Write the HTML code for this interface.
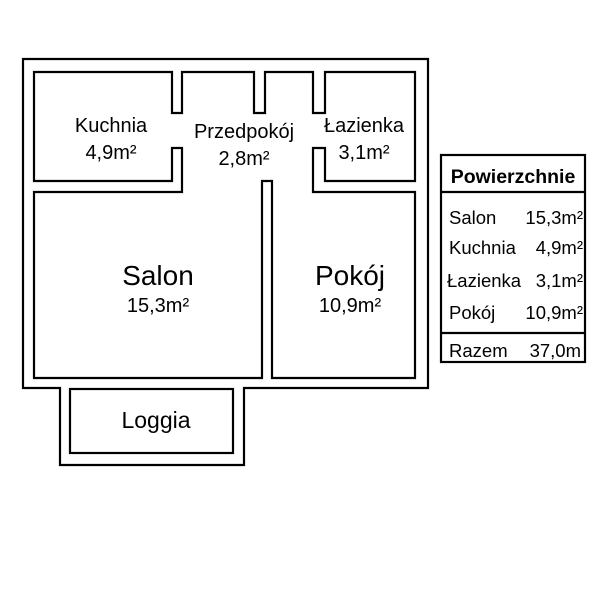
<!DOCTYPE html>
<html><head><style>
body{margin:0;background:#fff;}
svg text{font-family:"Liberation Sans",sans-serif;fill:#000;}
</style></head><body>
<svg width="600" height="600" viewBox="0 0 600 600" xmlns="http://www.w3.org/2000/svg">
<rect width="600" height="600" fill="#fff"/>
<g fill="none" stroke="#000" stroke-width="2.2">
<path d="M23,59 H428 V388 H244 V465 H60 V388 H23 Z"/>
<rect x="70" y="389" width="163" height="64"/>
<path d="M34,72 H172 V113 H182 V72 H254 V113 H265 V72 H313 V113 H325 V72 H415 V181 H325 V148 H313 V192 H415 V378 H272 V181 H262 V378 H34 V192 H182 V148 H172 V181 H34 Z"/>
<rect x="441" y="155" width="144" height="207"/>
<line x1="441" y1="192" x2="585" y2="192"/>
<line x1="441" y1="333" x2="585" y2="333"/>
</g>
<g text-anchor="middle" font-size="20">
<text x="111" y="132">Kuchnia</text>
<text x="111" y="159">4,9m²</text>
<text x="244" y="138">Przedpokój</text>
<text x="244" y="165">2,8m²</text>
<text x="364" y="132">Łazienka</text>
<text x="364" y="159">3,1m²</text>
<text x="158" y="285" font-size="28">Salon</text>
<text x="158" y="312">15,3m²</text>
<text x="350" y="285" font-size="28">Pokój</text>
<text x="350" y="312">10,9m²</text>
<text x="156" y="428" font-size="23">Loggia</text>
<text x="513" y="183" font-size="19.5" font-weight="bold">Powierzchnie</text>
</g>
<g font-size="18.5">
<text x="449" y="224">Salon</text><text x="583" y="224" text-anchor="end">15,3m²</text>
<text x="449" y="254">Kuchnia</text><text x="583" y="254" text-anchor="end">4,9m²</text>
<text x="447" y="287">Łazienka</text><text x="583" y="287" text-anchor="end">3,1m²</text>
<text x="449" y="319">Pokój</text><text x="583" y="319" text-anchor="end">10,9m²</text>
<text x="449" y="357">Razem</text><text x="581" y="357" text-anchor="end">37,0m</text>
</g>
</svg>
</body></html>
